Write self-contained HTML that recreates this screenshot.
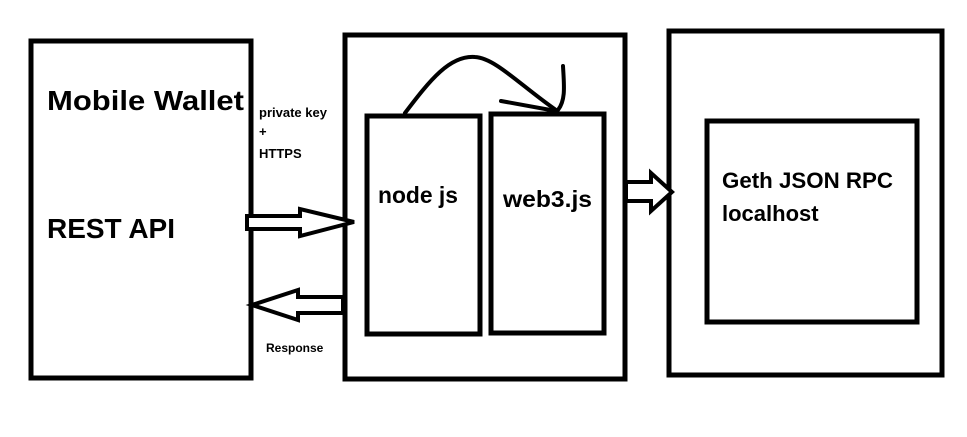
<!DOCTYPE html>
<html><head><style>body{margin:0;background:#fff}svg{display:block}</style></head><body>
<svg width="967" height="437" viewBox="0 0 967 437" xmlns="http://www.w3.org/2000/svg" font-family="Liberation Sans, sans-serif" font-weight="bold">
<rect width="967" height="437" fill="#fff"/>
<g fill="none" stroke="#000" stroke-width="5">
<rect x="31" y="41" width="220" height="337"/>
<rect x="345" y="35" width="280" height="344"/>
<rect x="367" y="116" width="113" height="218"/>
<rect x="491" y="114" width="113" height="219"/>
<rect x="669" y="31" width="273" height="344"/>
<rect x="707" y="121" width="210" height="201"/>
</g>
<g fill="#fff" stroke="#000" stroke-width="4" stroke-linejoin="miter">
<polygon points="247,216 300,216 300,209 354,222 300,236 300,229 247,229"/>
<polygon points="343,297 298,297 298,290 252,305 298,320 298,313 343,313"/>
<polygon points="626,182 651,182 651,173 672,192 651,211 651,201 626,201"/>
</g>
<g fill="none" stroke="#000" stroke-width="4" stroke-linecap="round">
<path d="M405,113 C430,80 450,55 475,57 C495,58 520,85 556,110"/>
<path d="M563,66 C564,85 566,100 558,110"/>
<path d="M501,101 L556,111"/>
</g>
<g fill="#000">
<text x="47" y="110" font-size="28" textLength="197" lengthAdjust="spacingAndGlyphs">Mobile Wallet</text>
<text x="47" y="238" font-size="28" textLength="128" lengthAdjust="spacingAndGlyphs">REST API</text>
<text x="259" y="117" font-size="13">private key</text>
<text x="259" y="136" font-size="13">+</text>
<text x="259" y="158" font-size="13">HTTPS</text>
<text x="266" y="352" font-size="12">Response</text>
<text x="378" y="203" font-size="23" textLength="80" lengthAdjust="spacingAndGlyphs">node js</text>
<text x="503" y="207" font-size="23" textLength="89" lengthAdjust="spacingAndGlyphs">web3.js</text>
<text x="722" y="188" font-size="22" textLength="171" lengthAdjust="spacingAndGlyphs">Geth JSON RPC</text>
<text x="722" y="221" font-size="22">localhost</text>
</g>
</svg>
</body></html>
